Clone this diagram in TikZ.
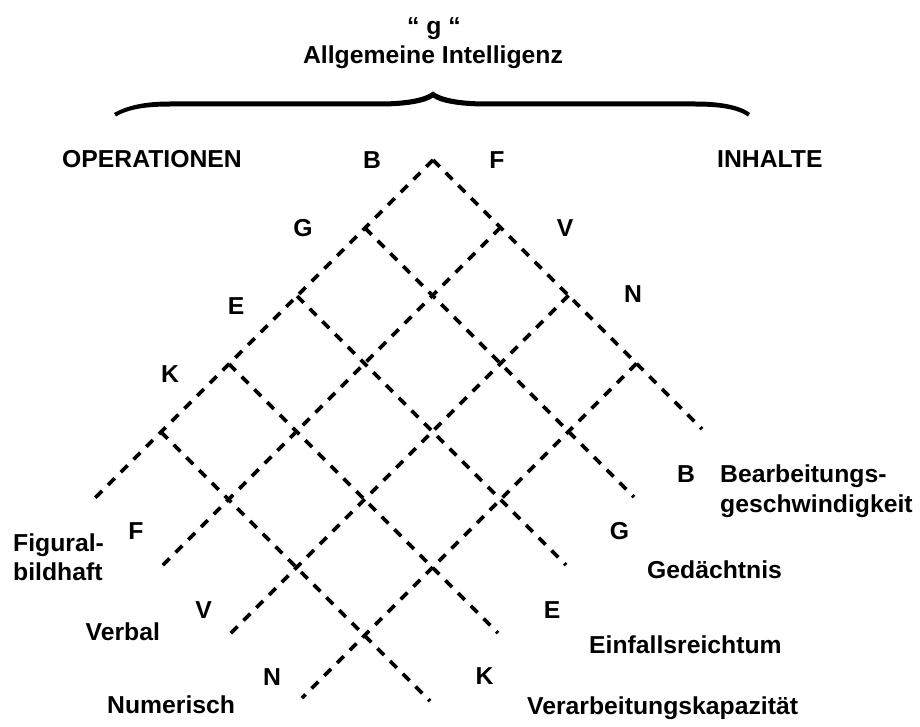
\documentclass[tikz,border=0pt]{standalone}
\usepackage{fontspec}
\setmainfont[FakeStretch=1.01]{Liberation Sans}
\begin{document}
\begin{tikzpicture}[x=1pt,y=-1pt,
  lbl/.style={font=\fontsize{24.5}{28}\selectfont\bfseries, inner sep=0pt},
  word/.style={lbl, anchor=base west},
  gridline/.style={line width=3.6pt, dash pattern=on 9.5pt off 8.5pt}]
\useasboundingbox (0,0) rectangle (920,727);

% heading
\node[lbl, anchor=base] (g) at (434,35) {“ g “};
\node[lbl, anchor=base] (allg) at (433,64) {Allgemeine Intelligenz};

% curly brace, drawn as a filled outline so that it tapers at the ends
\fill[black]
  (114,113) .. controls (130,104) and (150,101.5) .. (170,101.5)
  -- (380,101.5) .. controls (405,101.5) and (425,98) .. (433,91.5)
  .. controls (441,98) and (461,101.5) .. (486,101.5)
  -- (695,101.5) .. controls (715,101.5) and (738,104) .. (750,113)
  -- (748,116.5)
  .. controls (736,108) and (715,106.5) .. (695,106.5)
  -- (486,106.5) .. controls (460,106.5) and (440,103) .. (433,97.5)
  .. controls (426,103) and (406,106.5) .. (380,106.5)
  -- (170,106.5) .. controls (150,106.5) and (130,108) .. (116,116.5)
  -- cycle;

% column headings
\node[word] (ops) at (62,168) {OPERATIONEN};
\node[word] (inh) at (717,168) {INHALTE};

% grid: lines falling to the right (operations B, G, E, K and one more)
\foreach \d [count=\i] in {273,137,1,-135,-271}{
  \coordinate (a\i) at ({(593+\d)/2},{(593-\d)/2});
  \coordinate (b\i) at ({(1131+\d)/2},{(1131-\d)/2});
  \draw[gridline] (a\i) -- (b\i);
}
% grid: lines rising to the right (contents F, V, N and the apex line)
\foreach \c/\e [count=\j] in {593/-404,728/-404,864/-403,1000/-396}{
  \coordinate (p\j) at ({(\c+273)/2},{(\c-273)/2});
  \coordinate (q\j) at ({(\c+\e)/2},{(\c-\e)/2});
  \draw[gridline] (p\j) -- (q\j);
}

% letters at the upper ends
\node[lbl] (tB) at (372,160) {B};
\node[lbl] (tF) at (497,160) {F};
\node[lbl] (tG) at (303,228) {G};
\node[lbl] (tV) at (565,228) {V};
\node[lbl] (tE) at (236,306) {E};
\node[lbl] (tN) at (633,294) {N};
\node[lbl] (tK) at (170,374) {K};

% letters at the lower ends
\node[lbl] (lF) at (136,531.5) {F};
\node[lbl] (lV) at (203.5,610.5) {V};
\node[lbl] (lN) at (272,677) {N};
\node[lbl] (rB) at (686,474.5) {B};
\node[lbl] (rG) at (619.5,531.5) {G};
\node[lbl] (rE) at (552,610.5) {E};
\node[lbl] (rK) at (484.5,676.5) {K};

% contents, left
\node[word] (fig) at (13,551.5) {Figural-};
\node[word] (bild) at (13,580.5) {bildhaft};
\node[word] (verb) at (85.5,640.5) {Verbal};
\node[word] (num) at (107,713) {Numerisch};

% operations, right
\node[word] (bea) at (720,482.5) {Bearbeitungs-};
\node[word] (ges) at (720,512.5) {geschwindigkeit};
\node[word] (ged) at (647,578) {Gedächtnis};
\node[word] (einf) at (589,653) {Einfallsreichtum};
\node[word] (verk) at (527,714) {Verarbeitungskapazität};
\end{tikzpicture}
\end{document}
